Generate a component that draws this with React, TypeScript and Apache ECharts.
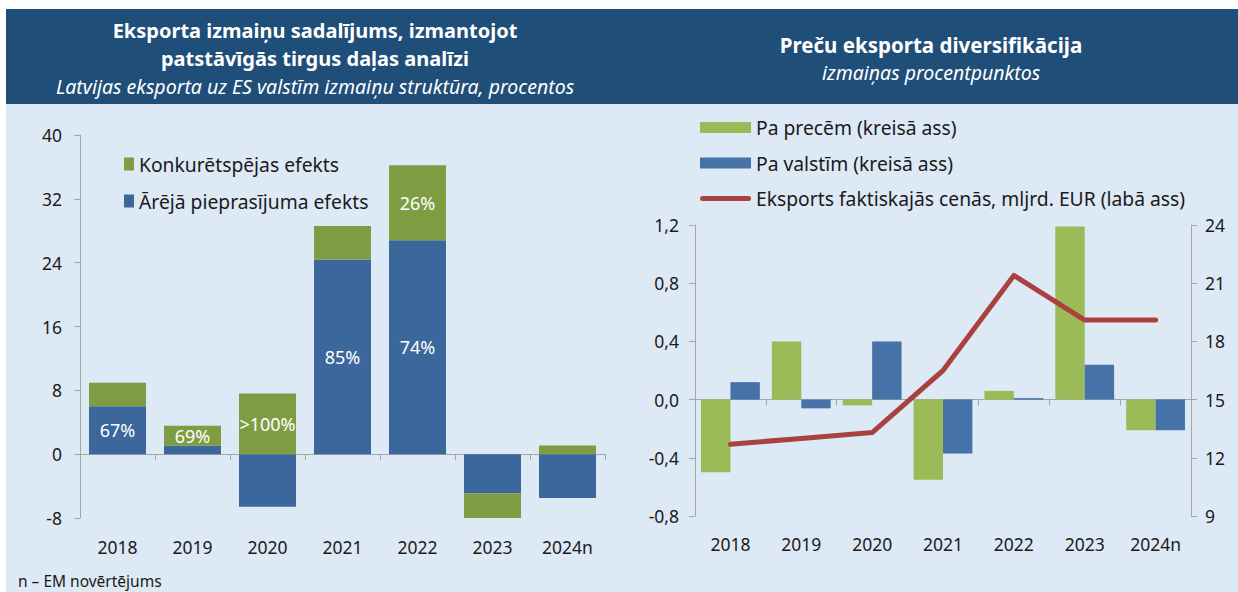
import React, { useEffect, useRef } from "react";
import * as echarts from "echarts";

// ---- Data ----
const categories = ["2018", "2019", "2020", "2021", "2022", "2023", "2024n"];

// Left chart: decomposition of export change (percent)
const demandEffect = [6.0, 1.05, -6.6, 24.4, 26.8, -4.9, -5.5];
const competitivenessEffect = [2.95, 2.5, 7.6, 4.2, 9.4, -3.5, 1.1];
const demandLabels = ["67%", "", "", "85%", "74%", "", ""];
const competitivenessLabels = ["", "69%", ">100%", "", "26%", "", ""];

// Right chart: diversification (percentage points) and exports (bn EUR)
const byGoods = [-0.5, 0.4, -0.04, -0.55, 0.06, 1.19, -0.21];
const byCountries = [0.12, -0.06, 0.4, -0.37, 0.01, 0.24, -0.21];
const exportsBn = [12.7, 13.0, 13.3, 16.5, 21.4, 19.1, 19.1];

const leftAxis = { min: -8, max: 40, interval: 8 };
const rightLeftAxis = { min: -0.8, max: 1.2, interval: 0.4 };
const rightRightAxis = { min: 9, max: 24, interval: 3 };

const NAME_COMP = "Konkurētspējas efekts";
const NAME_DEMAND = "Ārējā pieprasījuma efekts";
const NAME_GOODS = "Pa precēm (kreisā ass)";
const NAME_COUNTRIES = "Pa valstīm (kreisā ass)";
const NAME_EXPORTS = "Eksports faktiskajās cenās, mljrd. EUR (labā ass)";

const FONT = "'Noto Sans', sans-serif";
const HEADER = "#1F4E79";
const BG = "#DDE9F5";
const AXIS = "#A6A6A6";
const TEXT = "#1a1a1a";
const RED = "#A9423F";

const LINE_ICON =
  "path://M2.5,0 L48.5,0 A2.5,2.5 0 0 1 48.5,5 L2.5,5 A2.5,2.5 0 0 1 2.5,0 Z";

export default function App() {
  const ref = useRef<HTMLDivElement>(null);

  useEffect(() => {
    if (!ref.current) return;
    const chart = echarts.init(ref.current, undefined, { renderer: "svg" });

    const axisLine = { show: true, lineStyle: { color: AXIS, width: 1 } };
    const axisTick = { show: true, length: 6, lineStyle: { color: AXIS } };
    const axisLabelY = { color: TEXT, fontSize: 17.5, fontFamily: FONT };
    const commaFmt = (v: number) => v.toFixed(1).replace(".", ",");

    const headerText = (x: number, y: number, text: string, font: string) => ({
      type: "text",
      z: 5,
      x,
      y,
      style: { text, fill: "#fff", font, textAlign: "center", textVerticalAlign: "middle" },
    });

    const option: any = {
      animation: false,
      backgroundColor: "#ffffff",
      textStyle: { fontFamily: FONT },
      graphic: [
        { type: "rect", z: -10, shape: { x: 6, y: 104, width: 1232, height: 488 }, style: { fill: BG } },
        { type: "rect", z: -10, shape: { x: 6, y: 9, width: 1232, height: 95 }, style: { fill: HEADER } },
        headerText(315, 30, "Eksporta izmaiņu sadalījums, izmantojot", `bold 20px ${FONT}`),
        headerText(315, 58, "patstāvīgās tirgus daļas analīzi", `bold 20px ${FONT}`),
        headerText(315, 86.5, "Latvijas eksporta uz ES valstīm izmaiņu struktūra, procentos", `italic 19.5px ${FONT}`),
        headerText(931, 44.5, "Preču eksporta diversifikācija", `bold 20.5px ${FONT}`),
        headerText(931, 72.5, "izmaiņas procentpunktos", `italic 19.5px ${FONT}`),
        {
          type: "text", z: 5, x: 18, y: 581,
          style: { text: "n – EM novērtējums", fill: TEXT, font: `15.5px ${FONT}`, textAlign: "left", textVerticalAlign: "middle" },
        },
      ],
      legend: [
        {
          orient: "vertical", left: 119, top: 148, itemWidth: 10, itemHeight: 13, itemGap: 15, icon: "rect",
          textStyle: { fontSize: 19.3, color: TEXT, fontFamily: FONT, lineHeight: 22 },
          data: [NAME_COMP, NAME_DEMAND],
        },
        {
          orient: "vertical", left: 695, top: 111.5, itemWidth: 51, itemHeight: 11, itemGap: 13.5,
          textStyle: { fontSize: 19.3, color: TEXT, fontFamily: FONT, lineHeight: 22 },
          data: [
            { name: NAME_GOODS, icon: "rect" },
            { name: NAME_COUNTRIES, icon: "rect" },
            { name: NAME_EXPORTS, icon: LINE_ICON },
          ],
        },
      ],
      grid: [
        { left: 80, right: 633, top: 135, bottom: 74, containLabel: false },
        { left: 695, right: 47, top: 225, bottom: 76, containLabel: false },
      ],
      xAxis: [
        {
          type: "category", gridIndex: 0, data: categories,
          axisLine: { ...axisLine, onZero: true }, axisTick: { ...axisTick, length: 6 }, axisLabel: { show: false },
        },
        {
          type: "category", gridIndex: 0, data: categories, position: "bottom",
          axisLine: { show: false, onZero: false }, axisTick: { show: false },
          axisLabel: { color: TEXT, fontSize: 17.5, fontFamily: FONT, margin: 20 },
        },
        {
          type: "category", gridIndex: 1, data: categories,
          axisLine: { ...axisLine, onZero: true, onZeroAxisIndex: 1 }, axisTick: { ...axisTick, length: 6 }, axisLabel: { show: false },
        },
        {
          type: "category", gridIndex: 1, data: categories, position: "bottom",
          axisLine: { show: false, onZero: false }, axisTick: { show: false },
          axisLabel: { color: TEXT, fontSize: 17.5, fontFamily: FONT, margin: 19 },
        },
      ],
      yAxis: [
        {
          type: "value", gridIndex: 0, ...leftAxis,
          axisLine, axisTick, splitLine: { show: false },
          axisLabel: { ...axisLabelY, margin: 18 },
        },
        {
          type: "value", gridIndex: 1, ...rightLeftAxis, position: "left",
          axisLine, axisTick, splitLine: { show: false },
          axisLabel: { ...axisLabelY, margin: 16, formatter: commaFmt },
        },
        {
          type: "value", gridIndex: 1, ...rightRightAxis, position: "right",
          axisLine, axisTick, splitLine: { show: false },
          axisLabel: { ...axisLabelY, margin: 14 },
        },
      ],
      series: [
        {
          name: NAME_DEMAND, type: "bar", xAxisIndex: 0, yAxisIndex: 0, stack: "left",
          data: demandEffect, barCategoryGap: "24%",
          itemStyle: { color: "#3B679C" },
          label: {
            show: true, position: "inside", color: "#fff", fontSize: 18, fontFamily: FONT,
            formatter: (p: any) => demandLabels[p.dataIndex],
          },
        },
        {
          name: NAME_COMP, type: "bar", xAxisIndex: 0, yAxisIndex: 0, stack: "left",
          data: competitivenessEffect, barCategoryGap: "24%",
          itemStyle: { color: "#7E9D43" },
          label: {
            show: true, position: "inside", color: "#fff", fontSize: 18, fontFamily: FONT,
            formatter: (p: any) => competitivenessLabels[p.dataIndex],
          },
        },
        {
          name: NAME_GOODS, type: "bar", xAxisIndex: 2, yAxisIndex: 1,
          data: byGoods, barCategoryGap: "17%", barGap: "0%",
          itemStyle: { color: "#9BBB59" },
        },
        {
          name: NAME_COUNTRIES, type: "bar", xAxisIndex: 2, yAxisIndex: 1,
          data: byCountries, barCategoryGap: "17%", barGap: "0%",
          itemStyle: { color: "#4572A7" },
        },
        {
          name: NAME_EXPORTS, type: "line", xAxisIndex: 2, yAxisIndex: 2,
          data: exportsBn, symbol: "none", z: 5,
          lineStyle: { color: RED, width: 5, cap: "round", join: "round" },
          itemStyle: { color: RED },
        },
      ],
    };

    chart.setOption(option);
    return () => chart.dispose();
  }, []);

  return (
    <div
      ref={ref}
      style={{ position: "fixed", left: 0, top: 0, width: 1238, height: 592 }}
    />
  );
}
